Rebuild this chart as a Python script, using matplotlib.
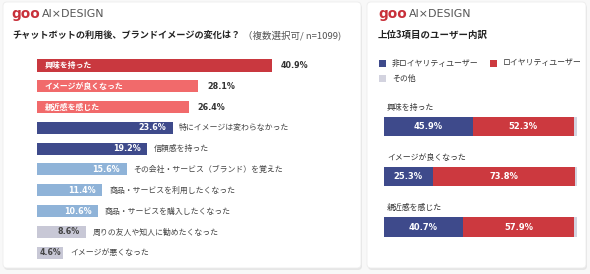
import matplotlib
matplotlib.use("Agg")
import matplotlib.pyplot as plt
from matplotlib.patches import FancyBboxPatch, Rectangle

plt.rcParams['font.family'] = ['Noto Sans CJK JP', 'DejaVu Sans']

# ---------------- data ----------------
left_title = "チャットボットの利用後、ブランドイメージの変化は？"
left_note = "（複数選択可/ n=1099)"
left_labels = ["興味を持った", "イメージが良くなった", "親近感を感じた",
               "特にイメージは変わらなかった", "信頼感を持った",
               "その会社・サービス（ブランド）を覚えた",
               "商品・サービスを利用したくなった",
               "商品・サービスを購入したくなった",
               "周りの友人や知人に勧めたくなった", "イメージが悪くなった"]
left_values = [40.9, 28.1, 26.4, 23.6, 19.2, 15.6, 11.4, 10.6, 8.6, 4.6]
left_colors = ["#c9383f", "#f16a6b", "#f16a6b", "#3e4a8b", "#3e4a8b",
               "#8fb3d8", "#8fb3d8", "#8fb3d8", "#c8c8d6", "#c8c8d6"]

right_title = "上位3項目のユーザー内訳"
right_cats = ["興味を持った", "イメージが良くなった", "親近感を感じた"]
non_loyal = [45.9, 25.3, 40.7]
loyal = [52.3, 73.8, 57.9]
other = [1.8, 0.9, 1.4]
series_names = ["非ロイヤリティユーザー", "ロイヤリティユーザー", "その他"]
series_colors = ["#3e4a8b", "#cc393f", "#d3d3df"]

W, H = 590, 274
fig = plt.figure(figsize=(W / 100, H / 100), dpi=100)
fig.patch.set_facecolor("#f8f8f8")

# background overlay in pixel coordinates
bg = fig.add_axes([0, 0, 1, 1], zorder=0)
bg.set_xlim(0, W)
bg.set_ylim(H, 0)
bg.axis("off")
for x0, x1 in [(3, 361), (367, 586)]:
    bg.add_patch(FancyBboxPatch((x0 + 1, 4), x1 - x0, 266, boxstyle="round,pad=0,rounding_size=4",
                                facecolor="#e6e6e6", edgecolor="none"))
    bg.add_patch(FancyBboxPatch((x0, 2), x1 - x0, 266, boxstyle="round,pad=0,rounding_size=4",
                                facecolor="white", edgecolor="#ededed", linewidth=0.6))

def logo(x, y):
    bg.text(x, y, "goo", color="#c8303a", fontsize=9.8, fontweight="bold",
            family="DejaVu Sans", va="center", ha="left")
    bg.text(x + 31, y, "AI×DESIGN", color="#555555", fontsize=7.9,
            family="DejaVu Sans", va="center", ha="left")

logo(11, 14)
logo(378, 14)

bg.text(12, 35, left_title, fontsize=6.6, fontweight="bold", color="#222222",
        va="center", ha="left")
bg.text(243, 35, left_note, fontsize=6.8, color="#555555", va="center", ha="left")
bg.text(378, 35, right_title, fontsize=6.8, fontweight="bold", color="#222222",
        va="center", ha="left")

# legend (manual)
leg_pos = [(379, 63), (490, 63), (379, 78)]
for (lx, ly), name, col in zip(leg_pos, series_names, series_colors):
    bg.add_patch(Rectangle((lx, ly - 3.5), 7, 7, facecolor=col, edgecolor="none"))
    bg.text(lx + 13, ly, name, fontsize=5.7, color="#333333", va="center", ha="left")

# ---------------- left chart ----------------
px_per = 5.745
x0px = 37
ax = fig.add_axes([x0px / W, 1 - 263 / H, 50 * px_per / W, (263 - 55.1) / H], zorder=2)
ax.set_xlim(0, 50)
ax.set_ylim(9.5, -0.5)
ax.axis("off")
ax.patch.set_alpha(0)
ys = list(range(len(left_values)))
ax.barh(ys, left_values, height=0.58, color=left_colors, edgecolor="none")
PT = 0.72  # points per pixel
for i, (lab, v) in enumerate(zip(left_labels, left_values)):
    val = f"{v}%"
    if i < 3:
        ax.annotate(lab, (0, i), xytext=(8 * PT, 0), textcoords="offset points",
                    fontsize=5.7, fontweight="bold", color="white", va="center", ha="left")
        ax.annotate(val, (v, i), xytext=(8.5 * PT, 0), textcoords="offset points",
                    fontsize=5.8, fontweight="bold", color="#333333", va="center", ha="left",
                    family="DejaVu Sans")
    else:
        vcol = "white" if i < 8 else "#444444"
        if v * px_per < 36:
            ax.annotate(val, (v / 2, i), fontsize=5.6, fontweight="bold", color=vcol,
                        va="center", ha="center", family="DejaVu Sans")
        else:
            ax.annotate(val, (v, i), xytext=(-6.5 * PT, 0), textcoords="offset points",
                        fontsize=5.8, fontweight="bold", color=vcol, va="center", ha="right",
                        family="DejaVu Sans")
        ax.annotate(lab, (v, i), xytext=(6.5 * PT, 0), textcoords="offset points",
                    fontsize=5.7, color="#444444", va="center", ha="left")

# ---------------- right chart ----------------
rx0, rx1 = 384, 577
step = 50.25
top = 126.5 - step / 2
axr = fig.add_axes([rx0 / W, 1 - (top + 3 * step) / H, (rx1 - rx0) / W, 3 * step / H], zorder=2)
axr.set_xlim(0, 100)
axr.set_ylim(2.5, -0.5)
axr.axis("off")
axr.patch.set_alpha(0)
ry = list(range(len(right_cats)))
h = 0.38
left_acc = [0] * 3
for vals, col in zip([non_loyal, loyal, other], series_colors):
    axr.barh(ry, vals, left=left_acc, height=h, color=col, edgecolor="none")
    left_acc = [a + b for a, b in zip(left_acc, vals)]
for i in ry:
    axr.text(1.5, i - 0.38, right_cats[i], fontsize=5.7, color="#333333",
             va="center", ha="left")
    axr.text(non_loyal[i] / 2, i, f"{non_loyal[i]}%", fontsize=6.0, fontweight="bold",
             color="white", va="center", ha="center", family="DejaVu Sans")
    axr.text(non_loyal[i] + loyal[i] / 2, i, f"{loyal[i]}%", fontsize=6.0, fontweight="bold",
             color="white", va="center", ha="center", family="DejaVu Sans")

fig.savefig("out.png", dpi=100, facecolor=fig.get_facecolor())
